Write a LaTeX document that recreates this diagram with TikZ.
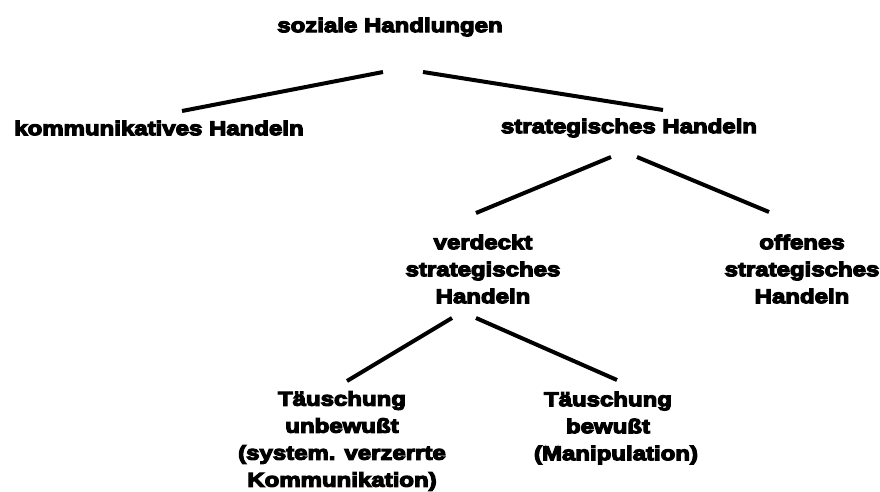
\documentclass[tikz,border=0pt]{standalone}
\usepackage{fontspec}
\setmainfont{Liberation Sans}[BoldFeatures={FakeBold=6,FakeStretch=1.2}]
\begin{document}
\begin{tikzpicture}[x=1pt,y=-1pt,
  lbl/.style={inner sep=0pt,align=center,font=\fontsize{20}{27}\selectfont\bfseries},
  conn/.style={line width=4pt}]
\useasboundingbox (0,0) rectangle (880,492);
\node[lbl] (soz) at (390,27) {soziale Handlungen};
\node[lbl] (kom) at (159,128) {kommunikatives Handeln};
\node[lbl] (str) at (629,128) {strategisches Handeln};
\node[lbl] (ver) at (483,269) {verdeckt\\strategisches\\Handeln};
\node[lbl] (off) at (802,269) {offenes\\strategisches\\Handeln};
\node[lbl] (tu) at (342,441) {Täuschung\\unbewußt\\(system. verzerrte\\Kommunikation)};
\node[lbl] (tb) at (608,428) {Täuschung\\bewußt\\\hspace*{16pt}(Manipulation)};
\draw[conn] ([shift={(-7,45)}]soz.center) -- ([shift={(23,-17)}]kom.center);
\draw[conn] ([shift={(33,45)}]soz.center) -- ([shift={(34,-18)}]str.center);
\draw[conn] ([shift={(-18,29)}]str.center) -- ([shift={(-7,-56)}]ver.center);
\draw[conn] ([shift={(8,29)}]str.center) -- ([shift={(-33,-57)}]off.center);
\draw[conn] ([shift={(-31,49)}]ver.center) -- ([shift={(5,-60)}]tu.center);
\draw[conn] ([shift={(-7,49)}]ver.center) -- ([shift={(9,-48)}]tb.center);
\end{tikzpicture}
\end{document}
